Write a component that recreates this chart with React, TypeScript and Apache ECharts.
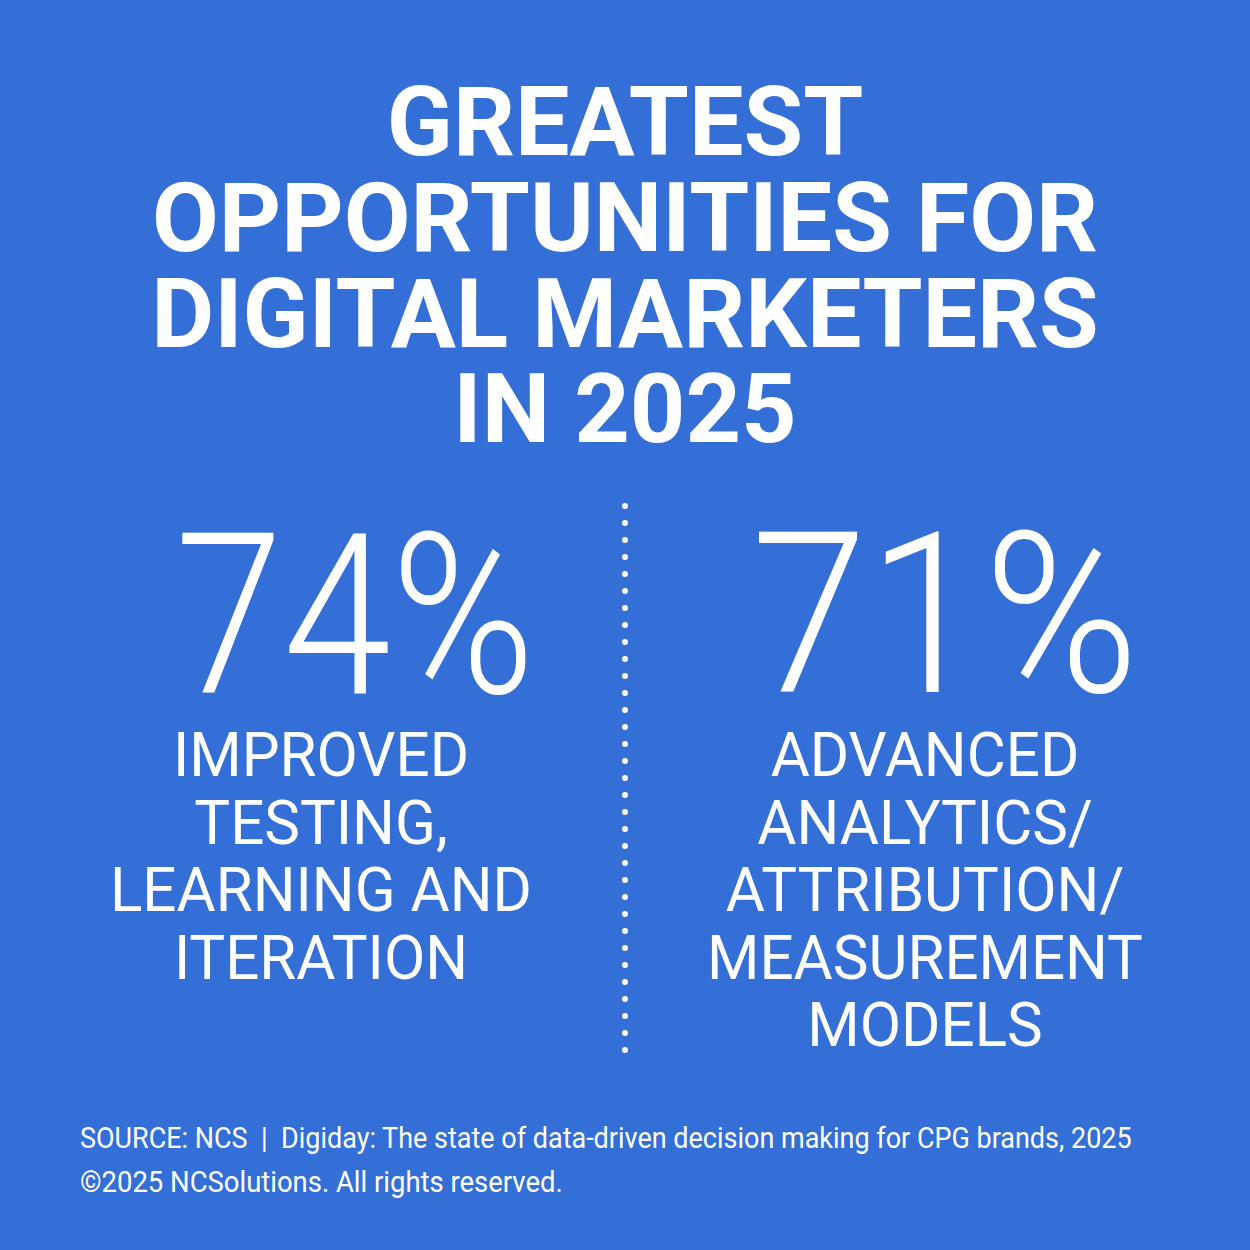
import React, { useEffect, useRef } from "react";
import * as echarts from "echarts";

const titleLines = ["GREATEST", "OPPORTUNITIES FOR", "DIGITAL MARKETERS", "IN 2025"];
const statValues = [74, 71];
const statLabels = [
  ["IMPROVED", "TESTING,", "LEARNING AND", "ITERATION"],
  ["ADVANCED", "ANALYTICS/", "ATTRIBUTION/", "MEASUREMENT", "MODELS"],
];
const footerLines = [
  "SOURCE: NCS  |  Digiday: The state of data-driven decision making for CPG brands, 2025",
  "\u00A92025 NCSolutions. All rights reserved.",
];

const BG = "#336fd6";

function measure(text: string, font: string): number {
  const c = document.createElement("canvas");
  const ctx = c.getContext("2d")!;
  ctx.font = font;
  return ctx.measureText(text).width;
}

export default function App() {
  const ref = useRef<HTMLDivElement>(null);
  useEffect(() => {
    if (!ref.current) return;
    const chart = echarts.init(ref.current, null, { renderer: "svg" });

    const titleFamily = "Roboto";
    const titleSize = 96;
    const titleFont = `bold ${titleSize}px ${titleFamily}`;
    const titleScale = 946 / measure(titleLines[1], titleFont);

    const numFamily = "Roboto";
    const numSize = 224;
    const numFont = `300 ${numSize}px ${numFamily}`;
    const numWidths = [360, 388];

    const labFamily = "Roboto";
    const labSize = 62;
    const labFont = `normal ${labSize}px ${labFamily}`;
    const labScale = 422 / measure(statLabels[0][2], labFont);

    const footFamily = "Roboto";
    const footSize = 30;
    const footFont = `normal ${footSize}px ${footFamily}`;
    const footScale = 1053 / measure(footerLines[0], footFont);

    const elements: any[] = [];
    elements.push({
      type: "rect",
      shape: { x: 0, y: 0, width: 1250, height: 1250 },
      style: { fill: BG },
      z: 0,
    });

    const titleY = [122, 218, 314, 409];
    titleLines.forEach((t, i) => {
      elements.push({
        type: "text",
        x: 625,
        y: titleY[i],
        scaleX: titleScale,
        style: {
          text: t,
          fill: "#ffffff",
          font: titleFont,
          textAlign: "center",
          textVerticalAlign: "middle",
        },
        z: 2,
      });
    });

    const colX = [355, 945];
    statValues.forEach((v, i) => {
      const txt = `${v}%`;
      elements.push({
        type: "text",
        x: colX[i],
        y: 616,
        scaleX: numWidths[i] / measure(txt, numFont),
        style: {
          text: txt,
          fill: "#ffffff",
          font: numFont,
          textAlign: "center",
          textVerticalAlign: "middle",
        },
        z: 2,
      });
    });

    const labX = [321, 925];
    statLabels.forEach((lines, c) => {
      lines.forEach((t, i) => {
        elements.push({
          type: "text",
          x: labX[c],
          y: 755 + i * 67.5,
          scaleX: labScale,
          style: {
            text: t,
            fill: "#ffffff",
            font: labFont,
            textAlign: "center",
            textVerticalAlign: "middle",
          },
          z: 2,
        });
      });
    });

    elements.push({
      type: "line",
      shape: { x1: 625, y1: 506, x2: 625, y2: 1062 },
      style: {
        stroke: "#ffffff",
        lineWidth: 6,
        lineCap: "round",
        lineDash: [0, 17],
      },
      z: 2,
    });

    const footY = [1138, 1182];
    const footScale2 = 483 / measure(footerLines[1], footFont);
    footerLines.forEach((t, i) => {
      elements.push({
        type: "text",
        x: 80,
        y: footY[i],
        scaleX: i === 0 ? footScale : footScale2,
        style: {
          text: t,
          fill: "#ffffff",
          font: footFont,
          textAlign: "left",
          textVerticalAlign: "middle",
        },
        z: 2,
      });
    });

    chart.setOption({
      animation: false,
      backgroundColor: BG,
      graphic: { elements },
    });
    return () => chart.dispose();
  }, []);
  return (
    <div
      ref={ref}
      style={{ position: "fixed", left: 0, top: 0, width: 1250, height: 1250 }}
    />
  );
}
